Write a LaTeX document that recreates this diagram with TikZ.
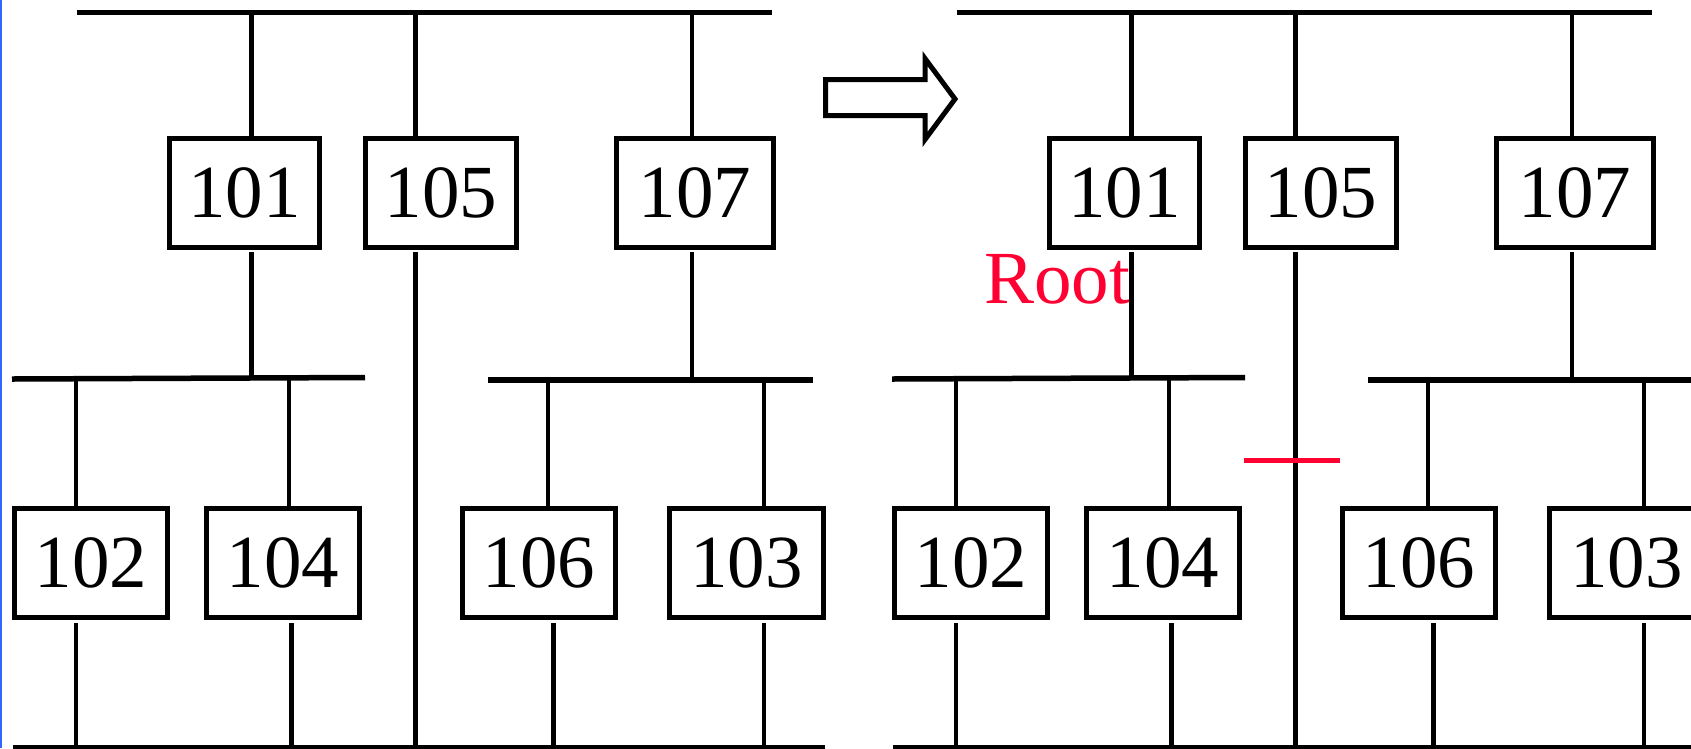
\documentclass[tikz,border=0pt]{standalone}
\usepackage{fontspec}
\setmainfont{Liberation Serif}
\newcommand\numfont{\fontsize{75}{75}\selectfont}
\definecolor{rootred}{RGB}{255,0,51}
\definecolor{edgeblue}{RGB}{51,102,255}
\begin{document}
\begin{tikzpicture}[x=1pt,y=-1pt,
  bus/.style={line width=5.5pt},
  wire/.style={line width=4.5pt},
  box/.style={draw, rectangle, line width=5.5pt, minimum height=109pt, inner sep=0pt, font=\numfont},
  blockarrow/.style={draw, line width=5pt, line join=miter}]
\useasboundingbox (0,0) rectangle (1691,748);
\fill[white] (0,0) rectangle (1691,748);
% right-half label (drawn first so the line lies over it)
\node[anchor=base west, inner sep=0pt, text=rootred, font=\numfont] (root) at (984,303) {Root};
\foreach \s/\p in {0/L,880/R}{
\begin{scope}[xshift=\s pt]
  % boxes
  \node[box, minimum width=150pt] (\p101) at (244.5,193) {101};
  \node[box, minimum width=151pt] (\p105) at (441,193) {105};
  \node[box, minimum width=157pt] (\p107) at (695,193) {107};
  \node[box, minimum width=153pt] (\p102) at (91,563) {102};
  \node[box, minimum width=153pt] (\p104) at (283,563) {104};
  \node[box, minimum width=153pt] (\p106) at (539,563) {106};
  \node[box, minimum width=154pt] (\p103) at (746.5,563) {103};
  % bus end points
  \coordinate (\p TA) at (76.5,12.3);  \coordinate (\p TB) at (772,12.3);
  \coordinate (\p MLA) at (12,379);    \coordinate (\p MLB) at (365,377.5);
  \coordinate (\p MRA) at (488,380);   \coordinate (\p MRB) at (813,380);
  \coordinate (\p BA) at (13,747.5);   \coordinate (\p BB) at (824.5,747.5);
  % taps on buses
  \coordinate (\p ta) at (251.7,12.3);
  \coordinate (\p tb) at (415.5,12.3);
  \coordinate (\p tc) at (692,12.3);
  \coordinate (\p ma) at (251.7,378);
  \coordinate (\p mb) at (692,380);
  \coordinate (\p mc) at (76,378.8);
  \coordinate (\p md) at (289,378);
  \coordinate (\p me) at (548,380);
  \coordinate (\p mf) at (764,380);
  \coordinate (\p ba) at (76,747.5);
  \coordinate (\p bb) at (291.5,747.5);
  \coordinate (\p bc) at (415.5,747.5);
  \coordinate (\p bd) at (553.5,747.5);
  \coordinate (\p be) at (764,747.5);
  % buses
  \draw[bus] (\p TA) -- (\p TB);
  \draw[bus] (\p MLA) -- (\p MLB);
  \draw[bus] (\p MRA) -- (\p MRB);
  \draw[line width=4.5pt] (\p BA) -- (\p BB);
  % top bus to first row
  \draw[wire] (\p ta) -- (\p ta |- \p101.north);
  \draw[wire] (\p tb) -- (\p tb |- \p105.north);
  \draw[wire] (\p tc) -- (\p tc |- \p107.north);
  % first row downward
  \draw[wire] ([yshift=-2pt]\p ma |- \p101.south) -- (\p ma);
  \draw[wire] ([yshift=-2pt]\p bc |- \p105.south) -- (\p bc);
  \draw[wire] ([yshift=-2pt]\p mb |- \p107.south) -- (\p mb);
  % middle buses to second row
  \draw[wire] (\p mc) -- (\p mc |- \p102.north);
  \draw[wire] (\p md) -- (\p md |- \p104.north);
  \draw[wire] (\p me) -- (\p me |- \p106.north);
  \draw[wire] (\p mf) -- (\p mf |- \p103.north);
  % second row to bottom bus
  \draw[wire] ([yshift=-3pt]\p ba |- \p102.south) -- (\p ba);
  \draw[wire] ([yshift=-3pt]\p bb |- \p104.south) -- (\p bb);
  \draw[wire] ([yshift=-3pt]\p bd |- \p106.south) -- (\p bd);
  \draw[wire] ([yshift=-3pt]\p be |- \p103.south) -- (\p be);
\end{scope}
}
% block arrow between the halves
\draw[blockarrow] (825.5,79.5) -- (925,79.5) -- (925,58.5) -- (955,99)
  -- (925,139.5) -- (925,115.5) -- (825.5,115.5) -- cycle;
% red cut mark on the 105 line
\coordinate (cutA) at (1244,460);
\coordinate (cutB) at (1340,460);
\draw[line width=5pt, rootred] (cutA) -- (cutB);
% blue left edge
\coordinate (edgeA) at (0.75,0);
\coordinate (edgeB) at (0.75,748);
\draw[line width=1.5pt, edgeblue] (edgeA) -- (edgeB);
\end{tikzpicture}
\end{document}
